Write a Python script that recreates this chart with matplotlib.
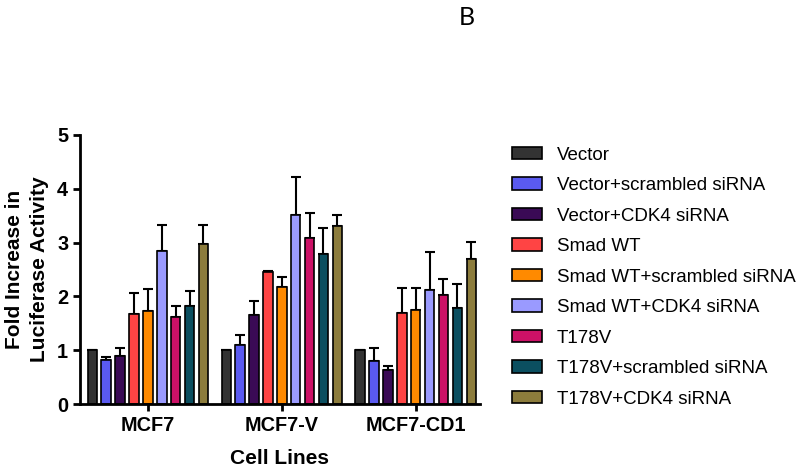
import numpy as np
import matplotlib
matplotlib.use("Agg")
import matplotlib.pyplot as plt

plt.rcParams["font.family"] = ["Liberation Sans", "DejaVu Sans"]

cell_lines = ["MCF7", "MCF7-V", "MCF7-CD1"]
conditions = ["Vector", "Vector+scrambled siRNA", "Vector+CDK4 siRNA",
              "Smad WT", "Smad WT+scrambled siRNA", "Smad WT+CDK4 siRNA",
              "T178V", "T178V+scrambled siRNA", "T178V+CDK4 siRNA"]
colors = ["#333333", "#5a5af0", "#3a0a55", "#ff4444", "#ff8a00",
          "#9a9aff", "#cc1166", "#0b4f60", "#8c7c3c"]

# rows = conditions, cols = cell lines
means = [
    [1.00, 1.00, 1.00],
    [0.82, 1.10, 0.80],
    [0.90, 1.65, 0.64],
    [1.67, 2.45, 1.70],
    [1.73, 2.17, 1.75],
    [2.85, 3.52, 2.11],
    [1.62, 3.09, 2.02],
    [1.82, 2.79, 1.79],
    [2.98, 3.30, 2.70],
]
errors = [
    [0.00, 0.00, 0.00],
    [0.06, 0.18, 0.25],
    [0.15, 0.26, 0.06],
    [0.39, 0.02, 0.45],
    [0.40, 0.19, 0.41],
    [0.48, 0.70, 0.71],
    [0.20, 0.46, 0.31],
    [0.28, 0.48, 0.44],
    [0.35, 0.21, 0.32],
]

fig = plt.figure(figsize=(8, 4.72), dpi=100)
ax = fig.add_axes([0.1, 0.144, 0.5, 0.57])

x = np.arange(len(cell_lines))
step = 0.1037
width = 0.071
for i, name in enumerate(conditions):
    pos = x + (i - 4) * step
    err = np.array(errors[i])
    ax.bar(pos, means[i], width, color=colors[i], edgecolor="black",
           linewidth=1.2, label=name, zorder=2,
           yerr=[np.zeros_like(err), err],
           error_kw=dict(ecolor="black", elinewidth=1.5, capsize=3.5, capthick=1.5, zorder=1))

ax.set_xlim(-0.507, 2.48)
ax.set_ylim(0, 5)
ax.set_yticks(range(6))
ax.set_xticks(x)
ax.set_xticklabels(cell_lines)
for s in ["top", "right"]:
    ax.spines[s].set_visible(False)
for s in ["left", "bottom"]:
    ax.spines[s].set_linewidth(2)
ax.tick_params(width=2, length=5, labelsize=14.3)
for lab in ax.get_xticklabels() + ax.get_yticklabels():
    lab.set_fontweight("bold")
ax.set_xlabel("Cell Lines", fontsize=15, fontweight="bold", labelpad=10)
ax.set_ylabel("Fold Increase in\nLuciferase Activity", fontsize=15,
              fontweight="bold", labelpad=6, linespacing=1.35)

ax.legend(loc="upper left", bbox_to_anchor=(0.619, 0.725), bbox_transform=fig.transFigure,
          frameon=False, fontsize=13.5, handlelength=1.6, handleheight=0.63,
          labelspacing=0.72, handletextpad=0.78)

fig.text(0.583, 0.963, "B", fontsize=18, family=["Lato", "DejaVu Sans"], ha="center", va="center")

plt.savefig("out.png", dpi=100)
